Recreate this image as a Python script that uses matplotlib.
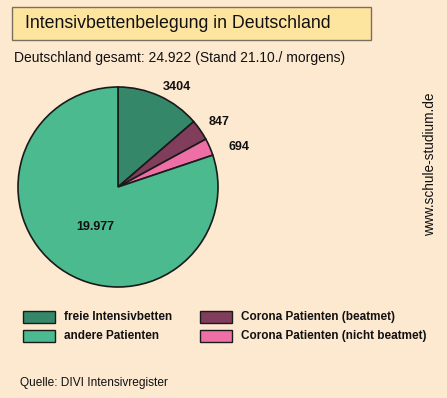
import matplotlib.pyplot as plt
from matplotlib.patches import Rectangle

plt.rcParams['font.family'] = ['Liberation Sans', 'DejaVu Sans']

# Daten (DIVI Intensivregister, 21.10.)
categories = ["freie Intensivbetten", "Corona Patienten (beatmet)",
              "Corona Patienten (nicht beatmet)", "andere Patienten"]
values = [3404, 847, 694, 19977]
value_labels = ["3404", "847", "694", "19.977"]
colors = ["#35876a", "#813d5c", "#ee6fa6", "#4bba8e"]
total_label = "24.922"

bg = "#fde9d0"
W, H = 447, 398
fig = plt.figure(figsize=(W / 100, H / 100), dpi=100, facecolor=bg)


def fx(px):
    return px / W


def fy(py):
    return 1 - py / H


# Titelkasten
fig.patches.append(Rectangle((fx(12), fy(40)), fx(359), 33 / H, transform=fig.transFigure,
                             facecolor="#fde49f", edgecolor="#7a7060", lw=1))
fig.text(fx(25), fy(23), "Intensivbettenbelegung in Deutschland", fontsize=12.8,
         va="center", color="#111111")
fig.text(fx(14), fy(58), "Deutschland gesamt: " + total_label + " (Stand 21.10./ morgens)",
         fontsize=10, va="center", color="#111111")

# Torte
ax = fig.add_axes([fx(18), fy(287), fx(200), 200 / H])
wedges, _ = ax.pie(values, colors=colors, startangle=90, counterclock=False,
                   wedgeprops=dict(edgecolor="#1a1a1a", linewidth=1.2))
for w in wedges:
    w.set_clip_on(False)
ax.set_xlim(-1, 1)
ax.set_ylim(-1, 1)
ax.set_aspect("equal")
ax.axis("off")

label_pos = [(0.59, 1.0), (1.01, 0.65), (1.21, 0.40), (-0.23, -0.40)]
for txt, (x, y) in zip(value_labels, label_pos):
    ax.text(x, y, txt, ha="center", va="center", fontsize=9, fontweight="bold",
            color="#111111", clip_on=False)

# Legende
legend_slots = [(23, 317), (200, 317), (200, 336), (23, 336)]
for cat, col, (lx, ly) in zip(categories, colors, legend_slots):
    fig.patches.append(Rectangle((fx(lx), fy(ly + 6)), fx(32), 12 / H, transform=fig.transFigure,
                                 facecolor=col, edgecolor="#1a1a1a", lw=1))
    fig.text(fx(lx + 41), fy(ly), cat, fontsize=8.5, fontweight="bold", va="center",
             color="#111111")

fig.text(fx(20), fy(383), "Quelle: DIVI Intensivregister", fontsize=8.6, va="center",
         color="#111111")
fig.text(fx(430), fy(164), "www.schule-studium.de", fontsize=9.8, rotation=90,
         ha="center", va="center", color="#111111")

fig.savefig("out.png", dpi=100, facecolor=bg)
